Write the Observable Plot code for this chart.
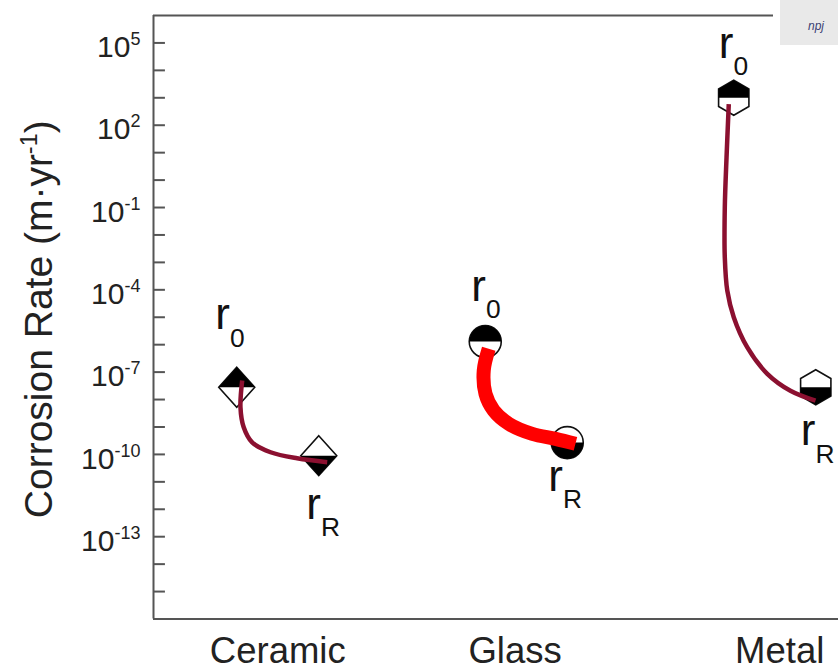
<!DOCTYPE html>
<html><head><meta charset="utf-8">
<script src="https://cdn.jsdelivr.net/npm/d3@7"></script>
<script src="https://cdn.jsdelivr.net/npm/@observablehq/plot@0.6"></script>
<style>
body{margin:0;background:#fff;overflow:hidden;font-family:"Liberation Sans",Arial,sans-serif;}
#wrap{position:relative;width:838px;height:671px;overflow:hidden;}
#badge{position:absolute;left:773px;top:0;width:65px;height:46px;background:#fff;}
#badge div{position:absolute;left:7px;top:0;width:58px;height:45px;background:#e9e9e9;}
#badge span{position:absolute;left:28px;top:19px;font:italic 12px "Liberation Sans",sans-serif;color:#3b3f73;white-space:nowrap;}
</style></head><body><div id="wrap"><div id="chart"></div><div id="badge"><div><span>npj</span></div></div></div>
<script>
// ---- data ----
const categories = ["Ceramic", "Glass", "Metal"];
const categoryPos = [1, 2, 3];
const categoryLabelPos = [1.0, 1.955, 3.02];
const r0Values = [2.8e-8, 1.3e-6, 1.0e3];
const rRValues = [9.0e-11, 2.7e-10, 2.8e-8];

const ceramicCurveX = [0.857, 0.850, 0.863, 0.897, 0.971, 1.078, 1.199];
const ceramicCurveY = [4.9e-8, 5.2e-9, 9.8e-10, 2.75e-10, 1.2e-10, 7.2e-11, 5.2e-11];
const glassCurveX = [1.849, 1.829, 1.836, 1.869, 1.930, 2.024, 2.118, 2.198];
const glassCurveY = [7.1e-7, 1.15e-7, 1.6e-8, 4.0e-9, 1.3e-9, 5.6e-10, 3.7e-10, 2.45e-10];
const metalCurveX = [2.815, 2.806, 2.799, 2.799, 2.809, 2.835, 2.889, 2.970, 3.063, 3.164];
const metalCurveY = [5.9e2, 6.8, 1.0e-1, 1.5e-3, 9.3e-5, 1.0e-5, 8.1e-7, 8.7e-8, 2.1e-8, 9.1e-9];

const yTickDecades = [-15, -14, -13, -12, -11, -10, -9, -8, -7, -6, -5, -4, -3, -2, -1, 0, 1, 2, 3, 4, 5];
const yLabelDecades = [5, 2, -1, -4, -7, -10, -13];
const yAxisLabel = "Corrosion Rate (m·yr^{-1})";
const pointLabels = {r0: "r_{0}", rR: "r_{R}"};

// ---- styling ----
const pairOffset = 0.165;
const shapeOf = {Ceramic: "diamond", Glass: "circle", Metal: "hexagon"};
const sizeOf = {Ceramic: 20, Glass: 16, Metal: 17.5};
const labelOffset = {
  Ceramic: {r0: [-21.5, -58], rR: [-12.5, 63]},
  Glass: {r0: [-14, -41], rR: [-19, 48]},
  Metal: {r0: [-15, -40], rR: [-15, 58]}
};
const curveStyle = {
  Ceramic: {stroke: "#8b1030", strokeWidth: 4.5},
  Glass: {stroke: "#ff0000", strokeWidth: 14},
  Metal: {stroke: "#8b1030", strokeWidth: 4.5}
};
const axisColor = "#555";

const points = categories.flatMap((c, i) => [
  {cat: c, kind: "r0", x: categoryPos[i] - pairOffset, y: r0Values[i]},
  {cat: c, kind: "rR", x: categoryPos[i] + pairOffset, y: rRValues[i]}
]);
const curves = {
  Ceramic: ceramicCurveX.map((x, i) => ({x, y: ceramicCurveY[i]})),
  Glass: glassCurveX.map((x, i) => ({x, y: glassCurveY[i]})),
  Metal: metalCurveX.map((x, i) => ({x, y: metalCurveY[i]}))
};

function sym(shape, part) {
  return {draw(ctx, size) {
    const s = Math.sqrt(size / Math.PI);
    if (shape === "diamond") {
      const w = 0.9 * s;
      if (part === "full") { ctx.moveTo(0, -s); ctx.lineTo(w, 0); ctx.lineTo(0, s); ctx.lineTo(-w, 0); }
      else if (part === "top") { ctx.moveTo(0, -s); ctx.lineTo(w, 0); ctx.lineTo(-w, 0); }
      else { ctx.moveTo(-w, 0); ctx.lineTo(w, 0); ctx.lineTo(0, s); }
    } else if (shape === "circle") {
      if (part === "full") { ctx.moveTo(s, 0); ctx.arc(0, 0, s, 0, 2 * Math.PI); }
      else if (part === "top") { ctx.moveTo(-s, 0); ctx.arc(0, 0, s, Math.PI, 2 * Math.PI); }
      else { ctx.moveTo(s, 0); ctx.arc(0, 0, s, 0, Math.PI); }
    } else {
      const h = 0.866 * s;
      if (part === "full") { ctx.moveTo(0, -s); ctx.lineTo(h, -s / 2); ctx.lineTo(h, s / 2); ctx.lineTo(0, s); ctx.lineTo(-h, s / 2); ctx.lineTo(-h, -s / 2); }
      else if (part === "top") { ctx.moveTo(-h, 0); ctx.lineTo(-h, -s / 2); ctx.lineTo(0, -s); ctx.lineTo(h, -s / 2); ctx.lineTo(h, 0); }
      else { ctx.moveTo(h, 0); ctx.lineTo(h, s / 2); ctx.lineTo(0, s); ctx.lineTo(-h, s / 2); ctx.lineTo(-h, 0); }
    }
    ctx.closePath();
  }};
}

const marks = [
  Plot.ruleY([1e-16, 1e6], {stroke: axisColor, strokeWidth: 2}),
  Plot.ruleX([0.5], {stroke: axisColor, strokeWidth: 2}),
  Plot.ruleY(yTickDecades, {y: d => 10 ** d, x1: 0.5, x2: 0.548, stroke: axisColor, strokeWidth: 2}),
  Plot.text(yLabelDecades, {y: d => 10 ** d, frameAnchor: "left", text: d => `10^{${d}}`, textAnchor: "end",
    dx: -13, dy: 4.5, fontSize: 30, fill: "#222", ariaLabel: "ytick"}),
  Plot.text([yAxisLabel], {frameAnchor: "left", text: d => d, rotate: -90, textAnchor: "middle", lineAnchor: "middle",
    dx: -113.5, dy: 2, fontSize: 39, fill: "#222", ariaLabel: "ylabel"}),
  Plot.text(categories, {x: (d, i) => categoryLabelPos[i], frameAnchor: "bottom", text: d => d, lineAnchor: "bottom",
    textAnchor: "middle", dy: 44, fontSize: 36.5, fill: "#222"})
];

categories.forEach(c => {
  const pts = points.filter(p => p.cat === c);
  const opts = {x: "x", y: "y", r: sizeOf[c]};
  marks.push(Plot.dot(pts, {...opts, symbol: sym(shapeOf[c], "full"), fill: "white", stroke: "#111", strokeWidth: 1.6}));
  marks.push(Plot.dot(pts.filter(p => p.kind === "r0"), {...opts, symbol: sym(shapeOf[c], "top"), fill: "black"}));
  marks.push(Plot.dot(pts.filter(p => p.kind === "rR"), {...opts, symbol: sym(shapeOf[c], "bottom"), fill: "black"}));
});
categories.forEach(c => {
  marks.push(Plot.line(curves[c], {x: "x", y: "y", curve: "catmull-rom", strokeLinecap: "butt", ...curveStyle[c]}));
});
points.forEach(p => {
  const [dx, dy] = labelOffset[p.cat][p.kind];
  marks.push(Plot.text([p], {x: "x", y: "y", text: d => pointLabels[d.kind], textAnchor: "start", lineAnchor: "bottom",
    dx, dy, fontSize: 44, fill: "#111", ariaLabel: "plabel"}));
});

const chart = Plot.plot({
  width: 838, height: 671,
  marginLeft: 153, marginRight: 0, marginTop: 15, marginBottom: 52.5,
  x: {domain: [0.5, 3.5], range: [153, 898.5], axis: null},
  y: {type: "log", domain: [1e-16, 1e6], axis: null},
  style: {fontFamily: "'Liberation Sans', Arial, sans-serif", background: "white"},
  marks
});

// rich text: ^{..} superscript, _{..} subscript
const richCfg = {ytick: {sup: 0.7, shift: 0.42}, ylabel: {sup: 0.45, shift: 0.72}, plabel: {sub: 0.57, shift: 0.33}};
const NS = "http://www.w3.org/2000/svg";
chart.querySelectorAll("text").forEach(t => {
  const s = t.textContent;
  if (!/[\^_]\{/.test(s)) return;
  let el = t, fs = null, key = null;
  while (el && el !== chart) {
    if (fs == null && el.getAttribute && el.getAttribute("font-size")) fs = parseFloat(el.getAttribute("font-size"));
    if (key == null && el.getAttribute && richCfg[el.getAttribute("aria-label")]) key = el.getAttribute("aria-label");
    el = el.parentNode;
  }
  fs = fs || 30;
  const cfg = richCfg[key] || {sup: 0.6, sub: 0.6, shift: 0.4};
  t.textContent = "";
  const re = /([\^_])\{([^}]*)\}|([^\^_]+)/g;
  let m, cur = 0;
  while ((m = re.exec(s))) {
    const ts = document.createElementNS(NS, "tspan");
    if (m[3] !== undefined) {
      ts.textContent = m[3];
      if (cur) ts.setAttribute("dy", -cur);
      cur = 0;
    } else {
      const isSup = m[1] === "^";
      const target = isSup ? -fs * cfg.shift : fs * cfg.shift;
      ts.setAttribute("font-size", fs * (isSup ? (cfg.sup || 0.6) : (cfg.sub || 0.6)));
      ts.setAttribute("dy", target - cur);
      cur = target;
      ts.textContent = m[2];
    }
    t.appendChild(ts);
  }
});
document.getElementById("chart").appendChild(chart);
</script></body></html>
